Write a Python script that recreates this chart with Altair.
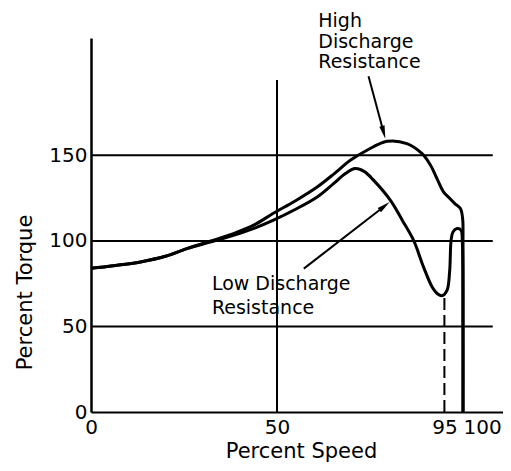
import altair as alt
import pandas as pd

# ---- data ----
high_speed = [0, 6, 13.3, 20, 25.8, 32, 38.3, 44, 48.9, 55, 60.8, 65.5, 69.7, 74.2, 79.6, 84.9, 89.0, 91.2, 93.0, 94.8, 96.6, 97.8, 99.3, 99.9, 100, 100, 100]
high_torque = [84, 85.5, 87.7, 91.0, 95.5, 99.8, 104.3, 109.5, 116.0, 123.5, 131.5, 139.5, 147.1, 153.0, 158.2, 156.9, 151.0, 144.5, 136.4, 128.5, 124.5, 121.8, 118.9, 113.0, 100, 50, 0]

low_speed = [0, 6, 13.3, 20, 25.8, 32, 38.3, 44, 48.9, 55, 60.8, 65.2, 68.5, 71.0, 73.5, 76.0, 80.5, 83.7, 86.7, 89.4, 91.7, 93.2, 94.4, 95.7, 96.4, 96.8, 97.3, 98.4, 99.5, 99.8, 100, 100]
low_torque = [84, 85.5, 87.7, 91.0, 95.5, 99.3, 103.3, 107.5, 112.0, 118.5, 125.7, 133.5, 139.5, 142.3, 140.5, 135.4, 123.7, 112.0, 100.4, 84.7, 73.1, 69.0, 68.0, 71.1, 82.0, 100.4, 105.2, 107.2, 106.2, 100.4, 50, 0]

x_ticks = [0, 50, 95, 100]
y_ticks = [0, 50, 100, 150]

hgrid_values = [50, 100, 150]
vgrid_values = [50]

annot_speed = [61.1, 61.1, 61.1, 32.5, 32.5]
annot_torque = [228.5, 216.2, 204.5, 74.6, 60.6]
annot_text = ["High", "Discharge", "Resistance", "Low Discharge", "Resistance"]

arrow_x = [74.6, 57.2]
arrow_y = [196.2, 83.8]
arrow_x2 = [78.6, 78.7]
arrow_y2 = [164.0, 120.0]
arrow_angle = [165, 52]

dash_speed = 95
dash_top = 68.0

# ---- tables ----
curves = pd.DataFrame(
    [{"series": "High", "idx": i, "speed": s, "torque": t} for i, (s, t) in enumerate(zip(high_speed, high_torque))]
    + [{"series": "Low", "idx": i, "speed": s, "torque": t} for i, (s, t) in enumerate(zip(low_speed, low_torque))]
)
hgrid = pd.DataFrame({"y": hgrid_values, "x": [0] * 3, "x2": [108] * 3})
vgrid = pd.DataFrame({"x": vgrid_values, "y": [0], "y2": [194]})
dash = pd.DataFrame({"x": [dash_speed], "y": [0], "y2": [dash_top]})
annot = pd.DataFrame({"x": annot_speed, "y": annot_torque, "text": annot_text})
arrows = pd.DataFrame({"x": arrow_x, "y": arrow_y, "x2": arrow_x2, "y2": arrow_y2, "ang": arrow_angle})

XD = [0, 110.75]
YD = [0, 218.6]
FONT = "DejaVu Sans"

xscale = alt.Scale(domain=XD, nice=False, zero=False)
yscale = alt.Scale(domain=YD, nice=False, zero=False)

x_axis = alt.Axis(
    values=x_ticks, grid=False, ticks=False, domainColor="black", domainWidth=2,
    labelFontSize=20, labelFont=FONT, labelColor="black", labelPadding=5,
    labelFlush=False, labelOverlap=False,
    labelAlign={"condition": {"test": "datum.value == 100", "value": "left"}, "value": "center"},
    title="Percent Speed", titleFont=FONT, titleFontSize=21, titleFontWeight="normal",
    titleColor="black", titleX=210, titleY=39, titleBaseline="middle", titleAlign="center",
)
y_axis = alt.Axis(
    values=y_ticks, grid=False, ticks=False, domainColor="black", domainWidth=2.5,
    labelFontSize=20, labelFont=FONT, labelColor="black", labelPadding=4,
    labelOverlap=False,
    title="Percent Torque", titleFont=FONT, titleFontSize=21, titleFontWeight="normal",
    titleColor="black", titleX=-66, titleY=254, titleBaseline="middle", titleAlign="center",
    titleAngle=270,
)

base_lines = alt.Chart(curves).mark_line(color="black", strokeWidth=3, interpolate="catmull-rom").encode(
    x=alt.X("speed:Q", scale=xscale, axis=x_axis),
    y=alt.Y("torque:Q", scale=yscale, axis=y_axis),
    detail="series:N",
    order="idx:Q",
)

hg = alt.Chart(hgrid).mark_rule(color="black", strokeWidth=2).encode(
    x=alt.X("x:Q", scale=xscale), x2="x2:Q", y=alt.Y("y:Q", scale=yscale)
)
vg = alt.Chart(vgrid).mark_rule(color="black", strokeWidth=2).encode(
    x=alt.X("x:Q", scale=xscale), y=alt.Y("y:Q", scale=yscale), y2="y2:Q"
)
dl = alt.Chart(dash).mark_rule(color="black", strokeWidth=2, strokeDash=[12, 5]).encode(
    x=alt.X("x:Q", scale=xscale), y=alt.Y("y:Q", scale=yscale), y2="y2:Q"
)
txt = alt.Chart(annot).mark_text(
    align="left", baseline="middle", font=FONT, fontSize=19, color="black"
).encode(x=alt.X("x:Q", scale=xscale), y=alt.Y("y:Q", scale=yscale), text="text:N")

arr = alt.Chart(arrows).mark_rule(color="black", strokeWidth=2).encode(
    x=alt.X("x:Q", scale=xscale), y=alt.Y("y:Q", scale=yscale), x2="x2:Q", y2="y2:Q"
)
heads = alt.Chart(arrows).mark_point(
    shape="M0,-1L-0.36,0.75L0.36,0.75Z", filled=True, color="black", opacity=1, size=225, strokeWidth=0
).encode(
    x=alt.X("x2:Q", scale=xscale), y=alt.Y("y2:Q", scale=yscale), angle=alt.Angle("ang:Q", scale=None)
)

chart = alt.layer(hg, vg, dl, base_lines, arr, heads, txt).properties(
    width=412, height=374,
    autosize=alt.AutoSizeParams(type="none"),
    padding={"left": 83, "top": 30, "right": 0, "bottom": 50},
    background="white",
).configure_view(stroke=None)

chart.save("out.html", embed_options={"renderer": "svg", "actions": False})
